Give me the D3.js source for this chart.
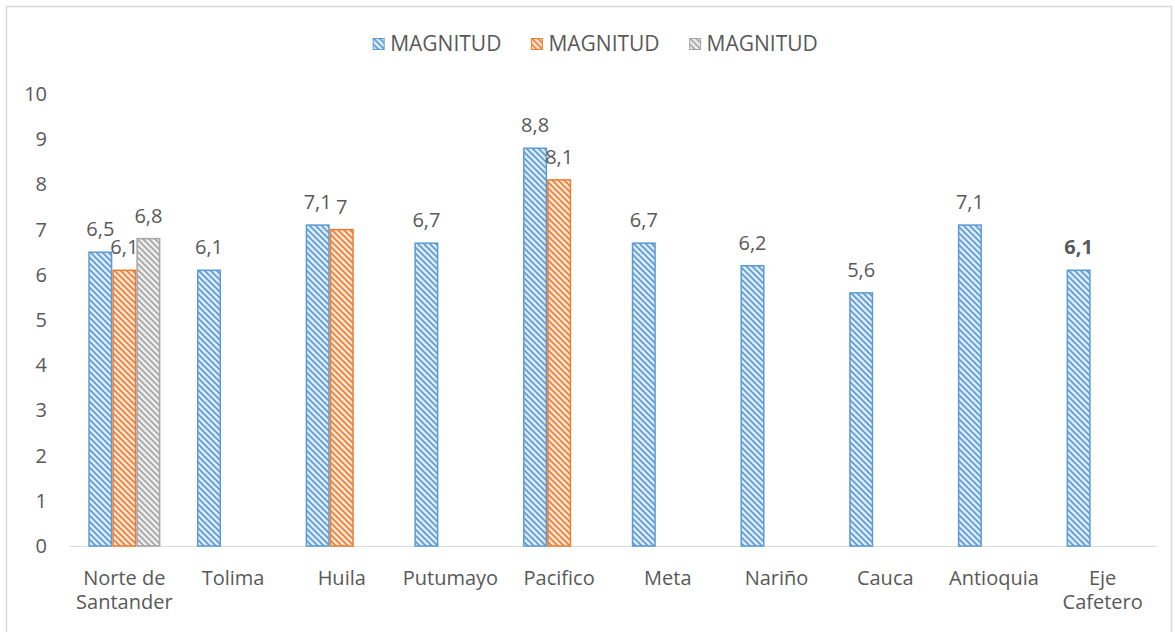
<!DOCTYPE html>
<html>
<head>
<meta charset="utf-8">
<script src="https://cdn.jsdelivr.net/npm/d3@7"></script>
<style>
  body { margin: 0; background: #fff; }
  text { font-family: "Open Sans", sans-serif; fill: #595959; }
</style>
</head>
<body>
<div id="chart"></div>
<script>
// categories and series
var categories = ["Norte de Santander", "Tolima", "Huila", "Putumayo", "Pacifico",
                  "Meta", "Nariño", "Cauca", "Antioquia", "Eje Cafetero"];
var serie1 = [6.5, 6.1, 7.1, 6.7, 8.8, 6.7, 6.2, 5.6, 7.1, 6.1];
var serie2 = [6.1, null, 7, null, 8.1, null, null, null, null, null];
var serie3 = [6.8, null, null, null, null, null, null, null, null, null];
var seriesNames = ["MAGNITUD", "MAGNITUD", "MAGNITUD"];
var yTicks = [0, 1, 2, 3, 4, 5, 6, 7, 8, 9, 10];

var colors = ["#5b9bd5", "#ed7d31", "#a5a5a5"];
var tints = ["#deebf7", "#fbe5d6", "#ededed"];

var width = 1175, height = 632;
var margin = {top: 94, right: 18, bottom: 86, left: 70};
var plotW = width - margin.left - margin.right,
    plotH = height - margin.top - margin.bottom;

var svg = d3.select("#chart").append("svg")
    .attr("width", width)
    .attr("height", height);

// hatch patterns
var defs = svg.append("defs");
colors.forEach(function(c, i) {
  var p = defs.append("pattern")
      .attr("id", "hatch" + i)
      .attr("patternUnits", "userSpaceOnUse")
      .attr("width", 6).attr("height", 6);
  p.append("rect").attr("width", 6).attr("height", 6).attr("fill", tints[i]);
  p.append("path")
      .attr("d", "M-1,-1 L7,7 M-1,5 L1,7 M5,-1 L7,1")
      .attr("stroke", c).attr("stroke-width", 1.6);
});

// outer border
svg.append("rect")
    .attr("x", 6.5).attr("y", 6.5)
    .attr("width", width - 10).attr("height", height + 10)
    .attr("fill", "none").attr("stroke", "#d9d9d9").attr("stroke-width", 1.5);

var g = svg.append("g")
    .attr("transform", "translate(" + margin.left + "," + margin.top + ")");

var x = d3.scaleBand()
    .domain(categories)
    .range([0, plotW]);

var xSub = d3.scaleBand()
    .domain([0, 1, 2])
    .range([0, x.bandwidth()])
    .paddingOuter(0.76);

var y = d3.scaleLinear()
    .domain([0, 10])
    .range([plotH, 0]);

// y axis labels
g.append("g")
    .call(d3.axisLeft(y).tickValues(yTicks).tickSize(0).tickPadding(0))
    .call(function(a) { a.select(".domain").remove(); })
    .selectAll("text")
      .attr("x", -23)
      .style("font-size", "20px")
      .style("font-family", "'Open Sans', sans-serif")
      .attr("fill", "#595959");

// baseline
g.append("line")
    .attr("x1", 0).attr("x2", plotW)
    .attr("y1", y(0) + 0.5).attr("y2", y(0) + 0.5)
    .attr("stroke", "#d9d9d9").attr("stroke-width", 1);

var allSeries = [serie1, serie2, serie3];

allSeries.forEach(function(vals, si) {
  var data = categories.map(function(c, i) { return {cat: c, v: vals[i], i: i}; })
      .filter(function(d) { return d.v !== null; });

  g.append("g").selectAll("rect")
    .data(data)
    .enter().append("rect")
      .attr("x", function(d) { return x(d.cat) + xSub(si) + 0.75; })
      .attr("y", function(d) { return y(d.v); })
      .attr("width", xSub.bandwidth() - 1.5)
      .attr("height", function(d) { return y(0) - y(d.v); })
      .attr("fill", "url(#hatch" + si + ")")
      .attr("stroke", colors[si])
      .attr("stroke-width", 1.5);

  g.append("g").selectAll("text")
    .data(data)
    .enter().append("text")
      .attr("x", function(d) { return x(d.cat) + xSub(si) + xSub.bandwidth() / 2; })
      .attr("y", function(d) { return y(d.v) - 16; })
      .attr("text-anchor", "middle")
      .style("font-size", "20px")
      .style("font-weight", function(d) { return d.i === categories.length - 1 ? "bold" : "normal"; })
      .text(function(d) { return String(d.v).replace(".", ","); });
});

// category labels (wrapped in two lines where needed)
var wrap = {"Norte de Santander": ["Norte de", "Santander"], "Eje Cafetero": ["Eje", "Cafetero"]};
var lines = [];
categories.forEach(function(c) {
  (wrap[c] || [c]).forEach(function(l, k) { lines.push({cat: c, text: l, k: k}); });
});
g.append("g").selectAll("text")
    .data(lines)
    .enter().append("text")
      .attr("text-anchor", "middle")
      .attr("x", function(d) { return x(d.cat) + x.bandwidth() / 2; })
      .attr("y", function(d) { return plotH + 39 + d.k * 24; })
      .style("font-size", "20px")
      .text(function(d) { return d.text; });

// legend
var legend = svg.append("g").attr("transform", "translate(0,44)");
var items = legend.selectAll("g")
    .data(seriesNames)
    .enter().append("g");
items.append("rect")
    .attr("y", -5.5)
    .attr("width", 11).attr("height", 11)
    .attr("fill", function(d, i) { return "url(#hatch" + i + ")"; })
    .attr("stroke", function(d, i) { return colors[i]; })
    .attr("stroke-width", 1);
items.append("text")
    .attr("x", 17)
    .attr("dy", "0.35em")
    .style("font-size", "21px")
    .text(function(d) { return d; });
var pos = 0, offsets = [];
items.each(function() {
  offsets.push(pos);
  pos += this.getBBox().width + 30;
});
pos -= 30;
var start = (width - pos) / 2 + 8;
items.attr("transform", function(d, i) { return "translate(" + (start + offsets[i]) + ",0)"; });
</script>
</body>
</html>
